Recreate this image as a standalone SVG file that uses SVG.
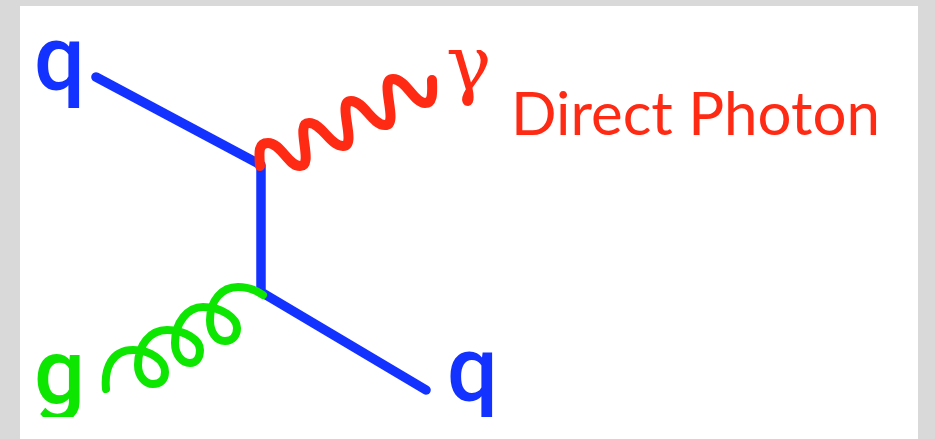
<svg xmlns="http://www.w3.org/2000/svg" width="935" height="439" viewBox="0 0 935 439">
<style>
.lbl{font-family:"Roboto","Liberation Sans",sans-serif;font-weight:500;font-size:90px}
.line{fill:none;stroke-linecap:round;stroke-linejoin:round}
.quark{stroke:#1432ff;stroke-width:9.5}
</style>
<defs><clipPath id="page"><rect x="20" y="6" width="898" height="411"/></clipPath></defs>
<rect width="935" height="439" fill="#d9d9d9"/>
<rect x="20" y="6" width="898" height="433" fill="#fff"/>
<g id="connectors">
<path class="line quark" d="M96 77L261 165V292L426 390"/>
<path class="line" stroke="#ff2a14" stroke-width="10" d="M260 166C259 152 258 143 268 143C281 143 288 166 300 166C315 166 294 123 309 123C322 123 330 146 343 146C358 146 336 101 351 101C364 101 372 125 385 125C400 125 378 79 393 79C406 79 414 103 425 103C434 103 432 90 432 80"/>
<path class="line" stroke="#0ce600" stroke-width="8" d="M106 389C104 368 112 350 133 350C150 350 165 360 165 372C165 380 160 384 153 384C145 384 138 376 138 365C138 345 150 330 167 330C185 330 200 340 200 350C200 358 196 363 190 363C182 363 175 355 175 343C175 322 188 307 203 307C222 307 237 318 237 328C237 336 232 341 225 341C216 341 210 332 210 320C210 300 222 287 238 287C248 287 256 290 263 295"/>
</g>
<g id="node-q1"><text class="lbl" x="34" y="90" fill="#1432ff">q</text></g>
<g id="node-gamma"><text x="446" y="90" fill="#ff2a14" font-family="'DejaVu Serif',serif" font-size="76">γ</text></g>
<g id="node-title"><text x="511" y="135" fill="#ff2a14" font-family="Lato,sans-serif" font-size="60">Direct Photon</text></g>
<g id="node-g"><text class="lbl" x="34" y="403" fill="#0ce600" clip-path="url(#page)">g</text></g>
<g id="node-q2"><text class="lbl" x="447" y="401" fill="#1432ff" clip-path="url(#page)">q</text></g>
</svg>
